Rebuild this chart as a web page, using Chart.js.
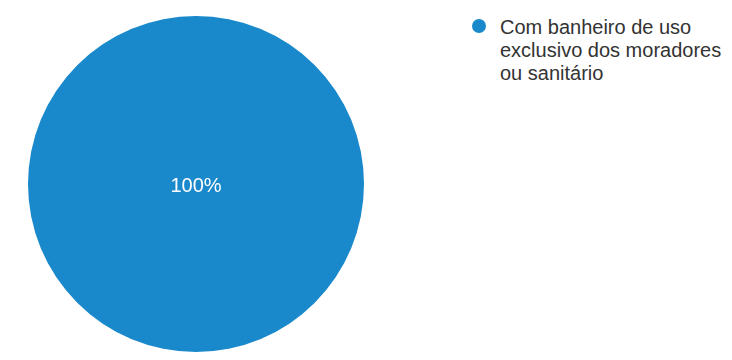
<!DOCTYPE html>
<html>
<head>
<meta charset="utf-8">
<script src="https://cdn.jsdelivr.net/npm/chart.js@4"></script>
<style>
  body { margin: 0; background: #fff; font-family: "Liberation Sans", Arial, sans-serif; }
  #wrap { position: relative; width: 732px; height: 360px; }
  #pieBox { position: absolute; left: 0; top: 0; width: 392px; height: 360px; }
  #legend { position: absolute; left: 472px; top: 16px; }
  .item { position: relative; padding-left: 28px; width: 232px; font-size: 20px; line-height: 23px; color: #333; }
  .dot { position: absolute; left: 0; top: 3px; width: 14px; height: 14px; border-radius: 50%; }
</style>
</head>
<body>
<div id="wrap">
  <div id="pieBox"><canvas id="myChart"></canvas></div>
  <div id="legend"></div>
</div>
<script>
const labels = ['Com banheiro de uso exclusivo dos moradores ou sanitário'];
const values = [100];
const colors = ['#1a89cc'];

// percentage text in the middle of each slice
const sliceText = {
  id: 'sliceText',
  afterDatasetsDraw(chart) {
    const ctx = chart.ctx;
    const total = values.reduce((a, b) => a + b, 0);
    chart.getDatasetMeta(0).data.forEach((arc, i) => {
      const pct = Math.round(values[i] / total * 100);
      let pos = arc.tooltipPosition();
      if (values[i] === total) pos = { x: arc.x, y: arc.y };
      ctx.save();
      ctx.fillStyle = '#fff';
      ctx.font = '20px "Liberation Sans", Arial, sans-serif';
      ctx.textAlign = 'center';
      ctx.textBaseline = 'middle';
      ctx.fillText(pct + '%', pos.x, pos.y + 2);
      ctx.restore();
    });
  }
};

const ctx = document.getElementById('myChart');

new Chart(ctx, {
  type: 'pie',
  data: {
    labels: labels,
    datasets: [{
      data: values,
      backgroundColor: colors,
      borderWidth: 0
    }]
  },
  options: {
    responsive: true,
    maintainAspectRatio: false,
    animation: false,
    layout: { padding: { top: 16, bottom: 8 } },
    plugins: {
      legend: { display: false },
      tooltip: { enabled: false }
    }
  },
  plugins: [sliceText]
});

// legend on the right
const legend = document.getElementById('legend');
labels.forEach((name, i) => {
  const item = document.createElement('div');
  item.className = 'item';
  const dot = document.createElement('span');
  dot.className = 'dot';
  dot.style.background = colors[i];
  item.appendChild(dot);
  item.appendChild(document.createTextNode(name));
  legend.appendChild(item);
});
</script>
</body>
</html>
